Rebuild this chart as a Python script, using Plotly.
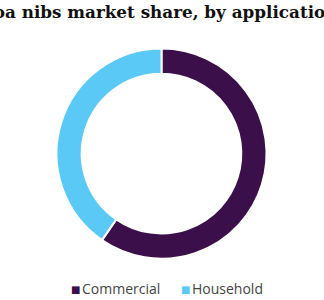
import plotly.graph_objects as go

labels = ["Commercial", "Household"]
values = [59.6, 40.4]
colors = ["#3a0f4a", "#5bc9f5"]
title_text = "Cocoa nibs market share, by application"

fig = go.Figure(go.Pie(
    labels=labels, values=values, hole=0.76, sort=False, direction="clockwise",
    rotation=0, marker=dict(colors=colors, line=dict(color="white", width=2)),
    textinfo="none", hoverinfo="label+percent", showlegend=False,
    domain=dict(x=[0, 0.997], y=[0.138, 0.838]),
))
fig.add_annotation(text="<b>" + title_text + "</b>", xref="paper", yref="paper",
                   x=-0.133, y=1.0, xanchor="left", yanchor="top", showarrow=False,
                   font=dict(family="DejaVu Serif", size=16.8, color="#111"))

# custom legend (square markers + labels)
leg_x = [69, 179]
for lx, lab, col in zip(leg_x, labels, colors):
    fig.add_annotation(text="■", xref="paper", yref="paper", x=lx / 324, y=(300 - 289.5) / 300,
                       xanchor="left", yanchor="middle", showarrow=False,
                       font=dict(family="DejaVu Sans", size=10, color=col))
    fig.add_annotation(text=lab, xref="paper", yref="paper", x=(lx + 11) / 324, y=(300 - 288) / 300,
                       xanchor="left", yanchor="middle", showarrow=False,
                       font=dict(family="Open Sans", size=14, color="#444"))

fig.update_layout(
    width=324, height=300, margin=dict(l=0, r=0, t=0, b=0),
    paper_bgcolor="white", plot_bgcolor="white", showlegend=False,
)
fig.write_html("out.html")
